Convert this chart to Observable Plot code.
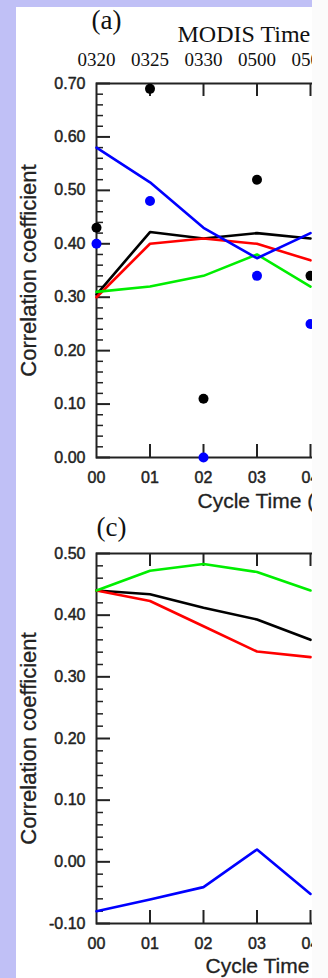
<!DOCTYPE html>
<html><head><meta charset="utf-8">
<script src="https://cdn.jsdelivr.net/npm/d3@7"></script>
<script src="https://cdn.jsdelivr.net/npm/@observablehq/plot@0.6"></script>
<style>
html,body{margin:0;padding:0;}
body{width:328px;height:978px;background:#fbfbfb;position:relative;overflow:hidden;}
#lav{position:absolute;left:0;top:0;width:312px;height:978px;background:#c0c0f6;}
#paper{position:absolute;left:16px;top:7px;width:296px;height:971px;background:#fff;clip-path:inset(-20px 0px 0px -20px);}
#pa,#pc{position:absolute;left:0;}
#pa{top:0px}
#pc{top:500px}
svg{overflow:visible}
</style></head><body>
<div id="lav"></div>
<div id="paper"><div id="pa"></div><div id="pc"></div></div>
<script>
// ---- data ----
const cycleTicks = [0, 1, 2, 3, 4];
const cycleLabels = ["00", "01", "02", "03", "04"];
const modisLabels = ["0320", "0325", "0330", "0500", "0505"];
const yTicksA = [0, 0.1, 0.2, 0.3, 0.4, 0.5, 0.6, 0.7];
const yTicksC = [-0.1, 0, 0.1, 0.2, 0.3, 0.4, 0.5];

// panel (a) lines
const aBlack = [0.305, 0.422, 0.41, 0.42, 0.41];
const aRed   = [0.30, 0.40, 0.41, 0.40, 0.369];
const aGreen = [0.31, 0.32, 0.34, 0.38, 0.32];
const aBlue  = [0.58, 0.515, 0.43, 0.373, 0.42];
// panel (a) dots
const aDotBlack = [0.43, 0.69, 0.11, 0.52, 0.34];
const aDotBlue  = [0.40, 0.48, 0.00, 0.34, 0.25];

// panel (c) lines
const cBlack = [0.44, 0.434, 0.412, 0.393, 0.36];
const cRed   = [0.44, 0.423, 0.382, 0.341, 0.332];
const cGreen = [0.44, 0.472, 0.483, 0.47, 0.44];
const cBlue  = [-0.08, -0.061, -0.041, 0.02, -0.052];

const SANS = "Liberation Sans, Arial, Helvetica, sans-serif";
const SERIF = "Liberation Serif, Times New Roman, serif";
const INK = "#222";

function panel(o) {
  const W = 528, ML = 80, MR = 20;
  const frameW = W - ML - MR;
  const marks = [];
  const xs = [1, 2, 3, 4, 5, 6, 7];
  // minor y ticks
  const minor = d3.range(Math.round(o.yDomain[0] * 50), Math.round(o.yDomain[1] * 50) + 1)
    .map(k => k / 50).filter(v => Math.abs(Math.round(v * 10) - v * 10) > 1e-6);
  marks.push(Plot.tickY(minor, {y: d => d, insetRight: frameW - 7, stroke: INK, strokeWidth: 1.5}));
  marks.push(Plot.tickY(o.yMajor, {y: d => d, insetRight: frameW - 14, stroke: INK, strokeWidth: 2}));
  marks.push(Plot.tickX(xs, {x: d => d, insetTop: o.plotH - 13, stroke: INK, strokeWidth: 2}));
  marks.push(Plot.tickX(xs, {x: d => d, insetBottom: o.plotH - 13, stroke: INK, strokeWidth: 2}));
  marks.push(Plot.frame({stroke: INK, strokeWidth: 2}));
  for (const [arr, col] of o.lines) {
    marks.push(Plot.line(arr, {x: (d, i) => cycleTicks[i], y: d => d, stroke: col, strokeWidth: 2.6}));
  }
  for (const [arr, col] of (o.dots || [])) {
    marks.push(Plot.dot(arr, {x: (d, i) => cycleTicks[i], y: d => d, fill: col, r: 5}));
  }
  const heavy = {fill: INK, stroke: INK, strokeWidth: 0.45, fontFamily: SANS};
  // y tick labels
  marks.push(Plot.text(o.yMajor, {y: d => d, text: d => d.toFixed(2), frameAnchor: "left", dx: -11,
    textAnchor: "end", lineAnchor: "middle", fontSize: 16, ...heavy}));
  // x tick labels
  marks.push(Plot.text(cycleTicks, {x: d => d, text: (d, i) => cycleLabels[i], frameAnchor: "bottom", dy: 25,
    textAnchor: "middle", lineAnchor: "bottom", fontSize: 16, ...heavy}));
  // axis titles
  marks.push(Plot.text(["Correlation coefficient"], {frameAnchor: "left", dx: -61, rotate: -90,
    textAnchor: "middle", lineAnchor: "bottom", fontSize: 22, ...heavy, strokeWidth: 0.3}));
  marks.push(Plot.text(["Cycle Time (UTC)"], {frameAnchor: "bottom-left", dx: o.xlDx, dy: o.xlDy,
    textAnchor: "start", lineAnchor: "bottom", fontSize: 21, ...heavy, strokeWidth: 0.3}));
  // panel tag
  marks.push(Plot.text([o.tag], {frameAnchor: "top-left", dx: o.tagDx, dy: o.tagDy, textAnchor: "start",
    lineAnchor: "bottom", fontSize: 27, fontFamily: SERIF, fill: "#111"}));
  if (o.top) {
    marks.push(Plot.text(cycleTicks, {x: d => d, text: (d, i) => modisLabels[i], frameAnchor: "top", dy: -18,
      textAnchor: "middle", lineAnchor: "bottom", fontSize: 19, fontFamily: SERIF, fill: "#111"}));
    marks.push(Plot.text(["MODIS Time"], {frameAnchor: "top-left", dx: 81, dy: -42, textAnchor: "start",
      lineAnchor: "bottom", fontSize: 24, fontFamily: SERIF, fill: "#111"}));
  }
  return Plot.plot({
    width: W, height: o.svgH,
    marginLeft: ML, marginRight: MR, marginTop: o.plotTop, marginBottom: o.svgH - o.plotTop - o.plotH,
    x: {domain: [0, 8], axis: null},
    y: {domain: o.yDomain, axis: null},
    style: {background: "transparent", overflow: "visible", maxWidth: "none", fontFamily: SANS},
    marks
  });
}

document.getElementById("pa").append(panel({
  yDomain: [0, 0.7], yMajor: yTicksA, plotTop: 76, plotH: 374, svgH: 505,
  lines: [[aBlack, "#000"], [aRed, "#ff0000"], [aGreen, "#00ee00"], [aBlue, "#0000ff"]],
  dots: [[aDotBlack, "#000"], [aDotBlue, "#0000ff"]],
  tag: "(a)", tagDx: -5, tagDy: -55, top: true, xlDx: 101, xlDy: 50
}));
document.getElementById("pc").append(panel({
  yDomain: [-0.1, 0.5], yMajor: yTicksC, plotTop: 46, plotH: 370, svgH: 471,
  lines: [[cBlack, "#000"], [cRed, "#ff0000"], [cGreen, "#00ee00"], [cBlue, "#0000ff"]],
  tag: "(c)", tagDx: 0, tagDy: -18, top: false, xlDx: 109, xlDy: 49
}));
</script>
</body></html>
